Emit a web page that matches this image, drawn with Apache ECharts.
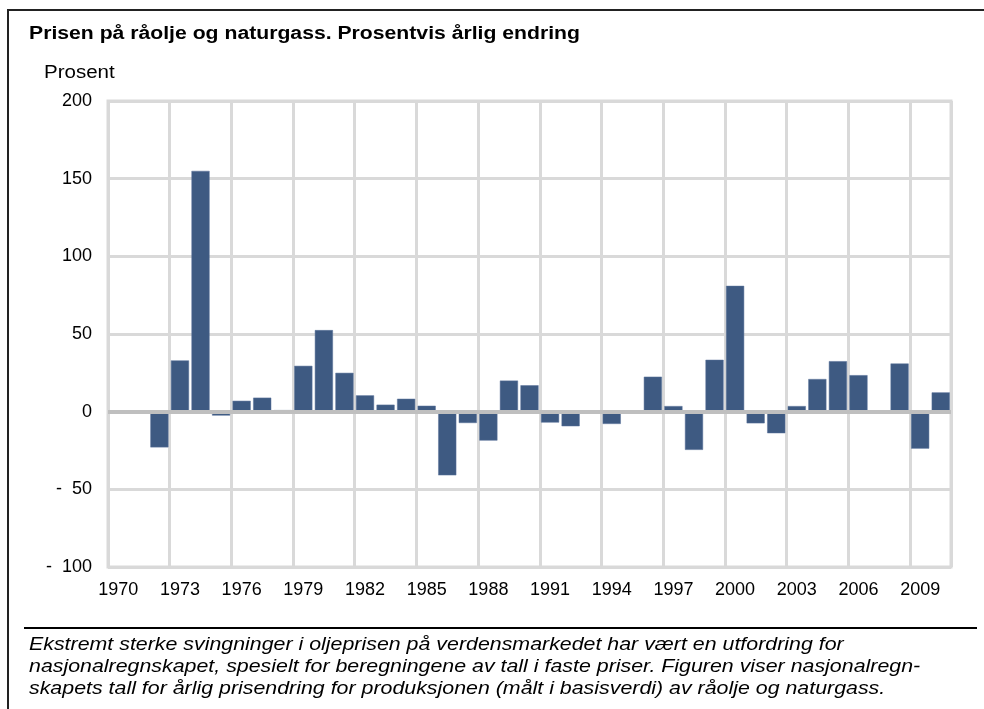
<!DOCTYPE html>
<html>
<head>
<meta charset="utf-8">
<script src="https://cdn.jsdelivr.net/npm/echarts@6/dist/echarts.min.js"></script>
<style>
    html, body {margin: 0; padding: 0; background: #fff;}
    #chart {width: 984px; height: 709px;}
</style>
</head>
<body>
<div id="chart"></div>
<script>
// data
const years = [];
for (let y = 1970; y <= 2010; y++) years.push(String(y));
const priceChange = [
    null, null, -23, 33, 155, -2.5, 7, 9, 1, 29.5,
    52.5, 25, 10.5, 4.5, 8.3, 3.8, -41, -7.3, -18.6, 20,
    17, -7, -9.4, null, -7.9, null, 22.5, 3.6, -24.6, 33.4,
    81, -7.5, -13.9, 3.6, 21, 32.5, 23.5, null, 31, -23.8,
    12.4
];
const yTicks = {min: -100, max: 200, interval: 50};

const titleText = 'Prisen på råolje og naturgass. Prosentvis årlig endring';
const unitText = 'Prosent';
const captionLines = [
    'Ekstremt sterke svingninger i oljeprisen på verdensmarkedet har vært en utfordring for',
    'nasjonalregnskapet, spesielt for beregningene av tall i faste priser. Figuren viser nasjonalregn-',
    'skapets tall for årlig prisendring for produksjonen (målt i basisverdi) av råolje og naturgass.'
];

const font = '"Liberation Sans", Arial, sans-serif';
const gridColor = '#d9d9d9';

// tekst litt strukket i bredden, som i originalen
const stretchedText = (text, x, y, css, sx) => ({
    type: 'text',
    x: x, y: y,
    scaleX: sx,
    style: {text: text, font: css, fill: '#000', textVerticalAlign: 'middle'}
});

const chart = echarts.init(document.getElementById('chart'));
chart.setOption({
    animation: false,
    textStyle: {fontFamily: font},
    grid: {
        left: 108, right: 33, top: 101, bottom: 142,
        show: true, borderColor: gridColor, borderWidth: 3
    },
    xAxis: {
        type: 'category',
        data: years,
        boundaryGap: true,
        axisLine: {show: false},
        axisTick: {show: false},
        axisLabel: {interval: 2, color: '#000', fontSize: 18, margin: 14, fontFamily: font},
        splitLine: {show: true, interval: 2, lineStyle: {color: gridColor, width: 3}}
    },
    yAxis: {
        type: 'value',
        min: yTicks.min, max: yTicks.max, interval: yTicks.interval,
        axisLine: {show: false},
        axisTick: {show: false},
        axisLabel: {
            color: '#000', fontSize: 18, margin: 16, fontFamily: font,
            formatter: v => v < 0 ? '-  ' + Math.abs(v) : String(v)
        },
        splitLine: {lineStyle: {color: gridColor, width: 3}}
    },
    series: [{
        type: 'bar',
        data: priceChange,
        barCategoryGap: '12%',
        itemStyle: {color: '#3e5a82', borderColor: '#5a739a', borderWidth: 0.5},
        markLine: {
            silent: true,
            symbol: 'none',
            label: {show: false},
            lineStyle: {color: '#bfbfbf', width: 4, type: 'solid'},
            data: [{yAxis: 0}]
        }
    }],
    graphic: [
        {type: 'line', shape: {x1: 7, y1: 10, x2: 984, y2: 10}, style: {stroke: '#222', lineWidth: 2}},
        {type: 'line', shape: {x1: 8, y1: 9, x2: 8, y2: 709}, style: {stroke: '#222', lineWidth: 2}},
        {type: 'line', shape: {x1: 24, y1: 628, x2: 977, y2: 628}, style: {stroke: '#000', lineWidth: 2}},
        stretchedText(titleText, 29, 34, 'bold 18px ' + font, 1.177),
        stretchedText(unitText, 44, 73, '18px ' + font, 1.14),
        ...captionLines.map((line, i) =>
            stretchedText(line, 29, 645 + i * 22, 'italic 18px ' + font, 1.187))
    ]
});
</script>
</body>
</html>
